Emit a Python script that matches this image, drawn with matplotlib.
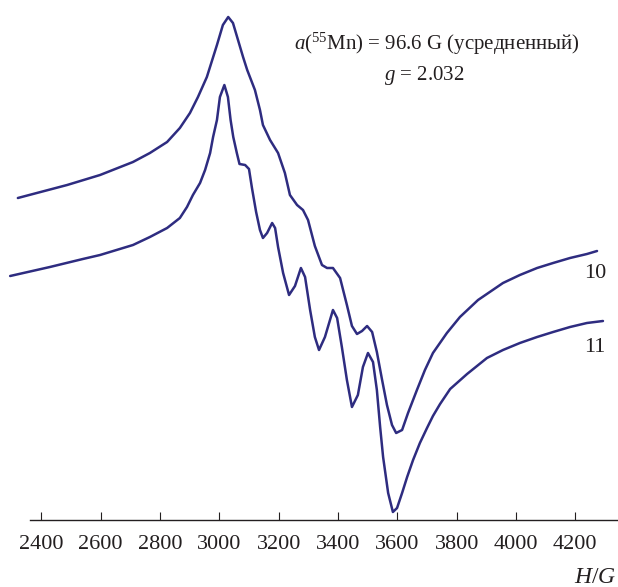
import matplotlib
matplotlib.use("Agg")
import matplotlib.pyplot as plt

plt.rcParams['font.family'] = ['Liberation Serif', 'DejaVu Serif']
plt.rcParams['mathtext.fontset'] = 'custom'
plt.rcParams['mathtext.rm'] = 'Liberation Serif'
plt.rcParams['mathtext.it'] = 'Liberation Serif:italic'

# Spectrum 10 (upper): field H (G), intensity (a.u.)
h10 = [2321, 2372, 2487, 2598, 2709, 2766, 2824, 2867, 2901, 2928, 2958, 2992,
       3012, 3030, 3046, 3063, 3080, 3094, 3120, 3137, 3147, 3171, 3198, 3221,
       3238, 3262, 3282, 3299, 3322, 3346, 3363, 3383, 3407, 3430, 3447, 3464,
       3481, 3498, 3515, 3531, 3548, 3565, 3582, 3596, 3616, 3636, 3666, 3693,
       3720, 3767, 3811, 3872, 3956, 4013, 4071, 4125, 4182, 4239, 4273]
i10 = [322, 326, 335, 345, 358, 367, 378, 392, 407, 423, 443, 475,
       495, 503, 497, 480, 463, 450, 430, 410, 395, 380, 367, 347,
       325, 315, 310, 300, 274, 255, 252, 252, 242, 215, 194, 186,
       189, 194, 188, 168, 141, 115, 95, 87, 90, 107, 130, 150,
       167, 187, 203, 220, 237, 245, 252, 257, 262, 266, 269]

# Spectrum 11 (lower)
h11 = [2295, 2429, 2540, 2598, 2709, 2766, 2824, 2867, 2891, 2911, 2935, 2952,
       2969, 2979, 2992, 3002, 3017, 3029, 3038, 3047, 3059, 3068, 3087, 3100,
       3110, 3124, 3137, 3147, 3161, 3178, 3188, 3198, 3215, 3235, 3255, 3275,
       3289, 3306, 3322, 3336, 3356, 3383, 3397, 3413, 3430, 3447, 3467, 3484,
       3501, 3518, 3531, 3542, 3552, 3569, 3585, 3599, 3616, 3633, 3653, 3676,
       3700, 3720, 3744, 3778, 3835, 3902, 3956, 4013, 4071, 4125, 4182, 4239,
       4293]
i11 = [244, 253, 261, 265, 275, 283, 292, 302, 313, 325, 337, 350,
       367, 383, 400, 423, 435, 423, 400, 383, 367, 356, 355, 351,
       332, 308, 290, 282, 287, 297, 292, 273, 247, 225, 234, 252,
       243, 210, 183, 170, 183, 210, 202, 173, 140, 113, 125, 153,
       167, 158, 130, 93, 63, 27, 8, 12, 27, 43, 60, 77,
       92, 104, 116, 131, 146, 162, 170, 177, 183, 188, 193, 197,
       199]

xticks = [2400, 2600, 2800, 3000, 3200, 3400, 3600, 3800, 4000, 4200]
curve_labels = ["10", "11"]
annot1 = r"$a$(${}^{55}$Mn) = 96.6 G (усредненный)"
annot2 = r"$g$ = 2.032"
xlabel = r"$H$/$G$"

line_color = '#2e2c80'
text_color = '#231f20'

fig = plt.figure(figsize=(6.18, 5.87), dpi=100)
ax = fig.add_axes([0.0, 67 / 587, 1.0, 520 / 587])
ax.plot(h10, i10, color=line_color, lw=1.8, solid_joinstyle='round', solid_capstyle='round')
ax.plot(h11, i11, color=line_color, lw=1.8, solid_joinstyle='round', solid_capstyle='round')

ax.set_xlim(2260.8, 4343.7)
ax.set_ylim(0, 520)
for s in ('top', 'right', 'left'):
    ax.spines[s].set_visible(False)
ax.spines['bottom'].set_bounds(2362, 4343.7)
ax.spines['bottom'].set_linewidth(1.0)
ax.spines['bottom'].set_color(text_color)
ax.set_yticks([])
ax.set_xticks(xticks)
ax.set_xticklabels([str(t) for t in xticks])
ax.tick_params(axis='x', direction='in', length=5.8, width=0.8, color=text_color,
               labelsize=16, labelcolor=text_color, pad=11)
ax.patch.set_visible(False)

ax.text(0.707, 0.915, annot1, transform=ax.transAxes, ha='center', va='center',
        fontsize=15, color=text_color)
ax.text(0.686, 0.855, annot2, transform=ax.transAxes, ha='center', va='center',
        fontsize=15, color=text_color)
ax.text(0.963, 0.475, curve_labels[0], transform=ax.transAxes, ha='center', va='center',
        fontsize=16, color=text_color)
ax.text(0.963, 0.331, curve_labels[1], transform=ax.transAxes, ha='center', va='center',
        fontsize=16, color=text_color)
fig.text(0.997, 0.016, xlabel, ha='right', va='center', fontsize=17, color=text_color)

fig.savefig("out.png", dpi=100)
